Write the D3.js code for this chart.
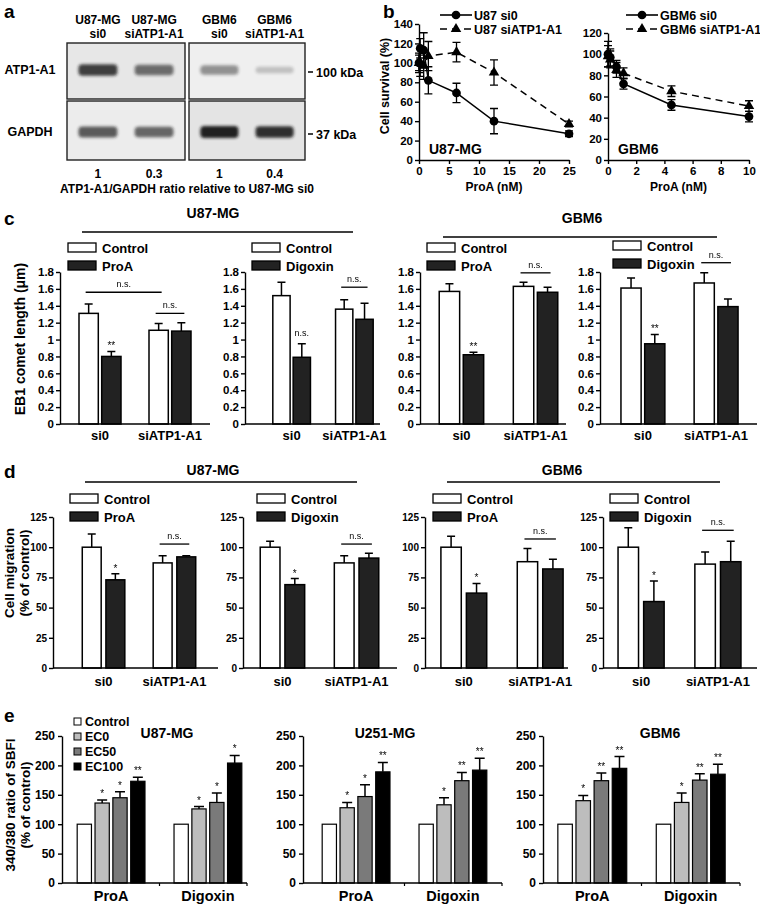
<!DOCTYPE html>
<html>
<head>
<meta charset="utf-8">
<script src="https://cdn.jsdelivr.net/npm/d3@7"></script>
<style>
  body { margin: 0; background: #fff; }
</style>
</head>
<body>
<script>
// ---- panel a : western blot
const laneTop = ["U87-MG", "U87-MG", "GBM6", "GBM6"];
const laneBottom = ["si0", "siATP1-A1", "si0", "siATP1-A1"];
const atp1Intensity = [0.9, 0.72, 0.55, 0.12];
const gapdhIntensity = [0.8, 0.75, 1.0, 0.95];
const ratioLabels = ["1", "0.3", "1", "0.4"];

// ---- panel b : cell survival
const u87Dose = [0, 0.2, 0.78, 1.56, 6.25, 12.5, 25];
const u87Si0 = [100, 115, 113, 82, 69, 40, 27];
const u87Si0Err = [8, 10, 18, 14, 10, 13, 3];
const u87SiAtp = [100, 100, 97, 107, 111, 90, 37];
const u87SiAtpErr = [10, 14, 14, 15, 10, 13, 3];
const gbmDose = [0, 0.16, 0.6, 1.1, 4.5, 10];
const gbmSi0 = [100, 97, 88, 72, 52, 41];
const gbmSi0Err = [12, 8, 6, 5, 5, 5];
const gbmSiAtp = [98, 95, 85, 82, 65, 51];
const gbmSiAtpErr = [10, 8, 7, 5, 5, 5];

// ---- panels c, d : control vs treated, si0 / siATP1-A1
const siGroups = ["si0", "siATP1-A1"];
const treatments = ["ProA", "Digoxin", "ProA", "Digoxin"];
const eb1Control = [[1.31, 1.11], [1.52, 1.36], [1.57, 1.63], [1.61, 1.67]];
const eb1ControlErr = [[0.11, 0.08], [0.16, 0.11], [0.09, 0.05], [0.12, 0.12]];
const eb1Treated = [[0.80, 1.10], [0.79, 1.24], [0.82, 1.56], [0.95, 1.39]];
const eb1TreatedErr = [[0.06, 0.10], [0.16, 0.19], [0.03, 0.06], [0.11, 0.09]];
const eb1Stars = ["**", "n.s.", "**", "**"];
const eb1NsLevel = [1.31, 1.62, 1.79, 1.91];
const eb1Ticks = [0, 0.2, 0.4, 0.6, 0.8, 1, 1.2, 1.4, 1.6, 1.8];

const migControl = [[100, 87], [100, 87], [100, 88], [100, 86]];
const migControlErr = [[11, 6], [5, 6], [9, 11], [16, 10]];
const migTreated = [[73, 92], [69, 91], [62, 82], [55, 88]];
const migTreatedErr = [[5, 1], [5, 4], [8, 8], [17, 17]];
const migStars = ["*", "*", "*", "*"];
const migNsLevel = [102.6, 102.6, 106.8, 114];
const migTicks = [0, 25, 50, 75, 100, 125];

// ---- panel e : SBFI ratio
const sbfiSeries = ["Control", "EC0", "EC50", "EC100"];
const sbfiDrugs = ["ProA", "Digoxin"];
const sbfiCells = ["U87-MG", "U251-MG", "GBM6"];
const sbfiValues = [
  [[100, 136, 145, 173], [100, 126, 137, 204]],
  [[100, 128, 147, 189], [100, 133, 174, 192]],
  [[100, 140, 174, 195], [100, 137, 175, 185]]
];
const sbfiErr = [
  [[0, 5, 10, 7], [0, 4, 16, 13]],
  [[0, 9, 20, 16], [0, 12, 14, 20]],
  [[0, 9, 13, 20], [0, 16, 11, 17]]
];
const sbfiStars = [
  [["", "*", "*", "**"], ["", "*", "*", "*"]],
  [["", "*", "*", "**"], ["", "*", "**", "**"]],
  [["", "*", "**", "**"], ["", "*", "**", "**"]]
];
const sbfiTicks = [0, 50, 100, 150, 200, 250];

const FONT = "'Liberation Sans', Arial, sans-serif";
const svg = d3.select("body").append("svg")
  .attr("width", 760).attr("height", 906)
  .attr("font-family", FONT).attr("font-weight", "bold");

function txt(g, x, y, s, size, anchor = "start", weight = "bold") {
  const t = g.append("text").attr("x", x).attr("y", y)
    .attr("font-size", size).attr("text-anchor", anchor)
    .attr("font-weight", weight).attr("fill", "#000").text(s);
  // small thin marks: keep them grey-scale antialiased
  if (weight === "normal") t.attr("opacity", 0.99);
  return t;
}

function vtxt(g, x, y, s, size) {
  return g.append("text").attr("transform", `translate(${x},${y}) rotate(-90)`)
    .attr("font-size", size).attr("text-anchor", "middle").text(s);
}

function styleAxis(sel, size) {
  sel.attr("font-family", null).attr("font-size", size);
  sel.select(".domain").attr("stroke-width", 1.4);
  sel.selectAll(".tick line").attr("stroke-width", 1.4);
  sel.selectAll("text").attr("fill", "#000");
}

// panel letters
[["a", 4, 18], ["b", 383, 18], ["c", 4, 225], ["d", 4, 478], ["e", 4, 722]]
  .forEach(([l, x, y]) => txt(svg, x, y, l, 19));

// ================= panel a
const defs = svg.append("defs");
defs.append("filter").attr("id", "blur")
  .attr("x", "-30%").attr("y", "-80%").attr("width", "160%").attr("height", "260%")
  .append("feGaussianBlur").attr("stdDeviation", 1.8);

const blotBoxes = [{ x0: 67, x1: 185, lanes: [0, 1] }, { x0: 189, x1: 305, lanes: [2, 3] }];
const blotRows = [
  { y0: 43, y1: 99, vals: atp1Intensity, cy: 70, name: "ATP1-A1", kda: "100 kDa", bg: ["#e7e7e7", "#efefef"] },
  { y0: 101, y1: 160, vals: gapdhIntensity, cy: 132, name: "GAPDH", kda: "37 kDa", bg: ["#ececec", "#e4e4e4"] }
];
const lane = [];
blotBoxes.forEach(b => {
  const xs = d3.scaleBand().domain(b.lanes).range([b.x0, b.x1]).paddingInner(0.2).paddingOuter(0.15);
  b.lanes.forEach(l => lane[l] = { x: xs(l), w: xs.bandwidth() });
});

const ga = svg.append("g");
blotRows.forEach(r => {
  blotBoxes.forEach((b, bi) => {
    ga.append("rect").attr("x", b.x0).attr("y", r.y0)
      .attr("width", b.x1 - b.x0).attr("height", r.y1 - r.y0)
      .attr("fill", r.bg[bi]);
  });
  ga.selectAll(null).data(r.vals).join("rect")
    .attr("x", (d, i) => lane[i].x + 3).attr("width", (d, i) => lane[i].w - 6)
    .attr("y", d => r.cy - 3 - d * 3).attr("height", d => 6 + d * 6)
    .attr("rx", 4).attr("fill", "#151515").attr("opacity", d => 0.2 + d * 0.75 * d)
    .attr("filter", "url(#blur)");
  blotBoxes.forEach(b => {
    ga.append("rect").attr("x", b.x0).attr("y", r.y0)
      .attr("width", b.x1 - b.x0).attr("height", r.y1 - r.y0)
      .attr("fill", "none").attr("stroke", "#222").attr("stroke-width", 1.4);
  });
  txt(ga, 30, r.cy + 4, r.name, 12.5, "middle");
  ga.append("line").attr("x1", 308).attr("x2", 313).attr("y1", r.cy + 2).attr("y2", r.cy + 2)
    .attr("stroke", "#000").attr("stroke-width", 1.5);
  txt(ga, 316, r.cy + 7, r.kda, 12.5);
});
laneTop.forEach((t, i) => {
  const cx = lane[i].x + lane[i].w / 2;
  txt(ga, cx, 24, t, 12, "middle");
  txt(ga, cx, 38, laneBottom[i], 12, "middle");
  txt(ga, cx, 178, ratioLabels[i], 12, "middle");
});
txt(ga, 187, 193, "ATP1-A1/GAPDH ratio relative to U87-MG si0", 12, "middle");

// ================= panel b
function survival(o) {
  const g = svg.append("g");
  const x = d3.scaleLinear().domain(o.xDomain).range(o.xRange);
  const y = d3.scaleLinear().domain(o.yDomain).range([160, o.yTop]);
  g.append("g").attr("transform", "translate(0,160)")
    .call(d3.axisBottom(x).tickValues(o.xTicks).tickSize(4).tickSizeOuter(0).tickPadding(3))
    .call(styleAxis, 11.5);
  g.append("g").attr("transform", `translate(${o.xRange[0]},0)`)
    .call(d3.axisLeft(y).tickValues(o.yTicks).tickSize(4).tickSizeOuter(0).tickPadding(2))
    .call(styleAxis, 11.5);
  txt(g, (o.xRange[0] + o.xRange[1]) / 2, 191, "ProA (nM)", 12, "middle");
  txt(g, o.xRange[0] + 10, 154, o.cell, 14);

  o.series.forEach((s, si) => {
    const pts = o.dose.map((d, i) => ({ d, v: s.v[i], e: s.e[i] }));
    g.append("path").datum(pts)
      .attr("d", d3.line().x(p => x(p.d)).y(p => y(p.v)))
      .attr("fill", "none").attr("stroke", "#000").attr("stroke-width", 1.5)
      .attr("stroke-dasharray", s.dash ? "7,5" : null);
    g.selectAll(null).data(pts).join("path")
      .attr("d", p => `M${x(p.d)},${y(p.v - p.e)}V${y(p.v + p.e)}M${x(p.d) - 4},${y(p.v - p.e)}h8M${x(p.d) - 4},${y(p.v + p.e)}h8`)
      .attr("stroke", "#000").attr("stroke-width", 1.3).attr("fill", "none");
    const sym = d3.symbol().type(s.dash ? d3.symbolTriangle : d3.symbolCircle).size(s.dash ? 48 : 60);
    g.selectAll(null).data(pts).join("path")
      .attr("transform", p => `translate(${x(p.d)},${y(p.v)})`)
      .attr("d", sym).attr("fill", "#000");
    // legend
    const ly = 15 + si * 14;
    g.append("line").attr("x1", o.legX).attr("x2", o.legX + 32).attr("y1", ly).attr("y2", ly)
      .attr("stroke", "#000").attr("stroke-width", 1.6).attr("stroke-dasharray", s.dash ? "7,5" : null);
    g.append("path").attr("transform", `translate(${o.legX + 16},${ly})`).attr("d", sym).attr("fill", "#000");
    txt(g, o.legX + 34, ly + 4.5, s.name, 12.5);
  });
}

survival({
  xDomain: [0, 25], xRange: [419, 569], yDomain: [0, 140], yTop: 24,
  xTicks: [0, 5, 10, 15, 20, 25], yTicks: d3.range(0, 141, 20), cell: "U87-MG", legX: 440,
  dose: u87Dose,
  series: [
    { name: "U87 si0", v: u87Si0, e: u87Si0Err, dash: false },
    { name: "U87 siATP1-A1", v: u87SiAtp, e: u87SiAtpErr, dash: true }
  ]
});
survival({
  xDomain: [0, 10], xRange: [608, 749], yDomain: [0, 120], yTop: 33,
  xTicks: [0, 2, 4, 6, 8, 10], yTicks: d3.range(0, 121, 20), cell: "GBM6", legX: 626,
  dose: gbmDose,
  series: [
    { name: "GBM6 si0", v: gbmSi0, e: gbmSi0Err, dash: false },
    { name: "GBM6 siATP1-A1", v: gbmSiAtp, e: gbmSiAtpErr, dash: true }
  ]
});
vtxt(svg, 389, 86, "Cell survival (%)", 12.5);

// ================= panels c, d
function barPanel(o) {
  const g = svg.append("g");
  const x = d3.scaleBand().domain(siGroups).range(o.range).paddingInner(0.4).paddingOuter(0.3);
  const xi = d3.scaleBand().domain(["Control", "Treated"]).range([0, x.bandwidth()]).paddingInner(o.innerPad);
  const data = siGroups.flatMap((grp, i) => [
    { grp, s: "Control", v: o.ctrl[i], e: o.ctrlErr[i] },
    { grp, s: "Treated", v: o.trt[i], e: o.trtErr[i] }
  ]);
  const cx = d => x(d.grp) + xi(d.s) + xi.bandwidth() / 2;
  const y = o.y;

  g.selectAll(null).data(data).join("path")
    .attr("d", d => `M${cx(d)},${y(d.v)}V${y(d.v + d.e)}M${cx(d) - 4},${y(d.v + d.e)}h8`)
    .attr("stroke", "#000").attr("stroke-width", 1.5).attr("fill", "none");
  g.selectAll(null).data(data).join("rect")
    .attr("x", d => x(d.grp) + xi(d.s)).attr("width", xi.bandwidth())
    .attr("y", d => y(d.v)).attr("height", d => y(0) - y(d.v))
    .attr("fill", d => d.s === "Control" ? "#fff" : "#222")
    .attr("stroke", "#000").attr("stroke-width", 1.5);

  g.append("g").attr("transform", `translate(${o.axisX},0)`)
    .call(d3.axisLeft(y).tickValues(o.ticks).tickFormat(o.fmt).tickSize(4).tickSizeOuter(0).tickPadding(2))
    .call(styleAxis, o.tickSize);
  g.append("line").attr("x1", o.axisX).attr("x2", o.axisEnd).attr("y1", y(0)).attr("y2", y(0))
    .attr("stroke", "#000").attr("stroke-width", 1.4);
  siGroups.forEach(grp => txt(g, x(grp) + x.bandwidth() / 2, y(0) + o.labelDy, grp, 13, "middle"));

  // significance over si0 treated bar
  const t0 = data[1];
  const star = o.star;
  txt(g, cx(t0), y(t0.v + t0.e) - (star === "n.s." ? 8 : 2), star, star === "n.s." ? 9 : 10, "middle", "normal");
  // n.s. line over siATP1-A1 pair
  const ns = (a, b, lvl) => {
    g.append("line").attr("x1", cx(a) - 3).attr("x2", cx(b) + 3).attr("y1", y(lvl)).attr("y2", y(lvl))
      .attr("stroke", "#000").attr("stroke-width", 1.3);
    txt(g, (cx(a) + cx(b)) / 2, y(lvl) - 5, "n.s.", 9, "middle", "normal");
  };
  ns(data[2], data[3], o.nsLevel);
  if (o.bigNs) ns(data[0], data[2], o.bigNs);

  // legend
  [["Control", "#fff"], [o.treat, "#222"]].forEach(([name, fill], i) => {
    g.append("rect").attr("x", o.legX).attr("y", o.legY + i * 18).attr("width", 28).attr("height", 9)
      .attr("fill", fill).attr("stroke", "#000").attr("stroke-width", 1.3);
    txt(g, o.legX + 34, o.legY + i * 18 + 9.5, name, 13);
  });
}

function header(label, x, y, x1, x2, ly) {
  txt(svg, x, y, label, 14, "middle");
  svg.append("line").attr("x1", x1).attr("x2", x2).attr("y1", ly).attr("y2", ly)
    .attr("stroke", "#000").attr("stroke-width", 1.4);
}

const eb1Y = d3.scaleLinear().domain([0, 1.8]).range([424, 272]);
const eb1Fmt = d => String(+d.toFixed(1));
const cLayout = [
  { axisX: 60, axisEnd: 210, range: [58, 212], legX: 68, legY: 243 },
  { axisX: 245, axisEnd: 380, range: [254, 392], legX: 252, legY: 243 },
  { axisX: 420, axisEnd: 566, range: [417, 580], legX: 427, legY: 243 },
  { axisX: 600, axisEnd: 757, range: [599, 760], legX: 613, legY: 241 }
];
cLayout.forEach((l, i) => barPanel(Object.assign({
  y: eb1Y, fmt: eb1Fmt, ticks: eb1Ticks, innerPad: 0.15, labelDy: 16, tickSize: 11.5,
  ctrl: eb1Control[i], ctrlErr: eb1ControlErr[i], trt: eb1Treated[i], trtErr: eb1TreatedErr[i],
  treat: treatments[i], star: eb1Stars[i], nsLevel: eb1NsLevel[i], bigNs: i === 0 ? 1.56 : null
}, l)));
header("U87-MG", 213, 218, 82, 353, 232);
header("GBM6", 582, 223, 443, 717, 237);
vtxt(svg, 25, 339, "EB1 comet length  (\u03bcm)", 14);

const migY = d3.scaleLinear().domain([0, 125]).range([668, 517]);
const dLayout = [
  { axisX: 53, axisEnd: 218, range: [61, 217], legX: 70, legY: 494 },
  { axisX: 243, axisEnd: 397, range: [238, 401], legX: 257, legY: 494 },
  { axisX: 425, axisEnd: 568, range: [418, 586], legX: 433, legY: 494 },
  { axisX: 603, axisEnd: 757, range: [595, 764], legX: 610, legY: 494 }
];
dLayout.forEach((l, i) => barPanel(Object.assign({
  y: migY, fmt: d3.format("d"), ticks: migTicks, innerPad: 0.2, labelDy: 18, tickSize: 10,
  ctrl: migControl[i], ctrlErr: migControlErr[i], trt: migTreated[i], trtErr: migTreatedErr[i],
  treat: treatments[i], star: migStars[i], nsLevel: migNsLevel[i], bigNs: null
}, l)));
header("U87-MG", 213, 475, 85, 357, 482);
header("GBM6", 562, 475, 447, 720, 482);
vtxt(svg, 14, 573, "Cell migration", 13.5);
vtxt(svg, 29, 573, "(% of control)", 13.5);

// ================= panel e
const sbfiColor = d3.scaleOrdinal().domain(sbfiSeries).range(["#fff", "#bdbdbd", "#7a7a7a", "#000"]);
const sbfiY = d3.scaleLinear().domain([0, 250]).range([883, 736]);
const eLayout = [
  { axisX: 62, axisEnd: 247, range: [67.5, 251.5], titleX: 167 },
  { axisX: 303, axisEnd: 502, range: [312.5, 496.5], titleX: 385 },
  { axisX: 543, axisEnd: 740, range: [548, 735], titleX: 660 }
];
eLayout.forEach((l, ci) => {
  const g = svg.append("g");
  const x = d3.scaleBand().domain(sbfiDrugs).range(l.range).paddingInner(0.3).paddingOuter(0.1);
  const xi = d3.scaleBand().domain(sbfiSeries).range([0, x.bandwidth()]).paddingInner(0.2);
  const y = sbfiY;
  const data = sbfiDrugs.flatMap((drug, di) => sbfiSeries.map((s, si) => ({
    drug, s, v: sbfiValues[ci][di][si], e: sbfiErr[ci][di][si], star: sbfiStars[ci][di][si]
  })));
  const cx = d => x(d.drug) + xi(d.s) + xi.bandwidth() / 2;
  g.selectAll(null).data(data.filter(d => d.e > 0)).join("path")
    .attr("d", d => `M${cx(d)},${y(d.v)}V${y(d.v + d.e)}M${cx(d) - 5},${y(d.v + d.e)}h10`)
    .attr("stroke", "#000").attr("stroke-width", 1.5).attr("fill", "none");
  g.selectAll(null).data(data).join("rect")
    .attr("x", d => x(d.drug) + xi(d.s)).attr("width", xi.bandwidth())
    .attr("y", d => y(d.v)).attr("height", d => y(0) - y(d.v))
    .attr("fill", d => sbfiColor(d.s)).attr("stroke", "#000").attr("stroke-width", 1.2);
  g.selectAll(null).data(data.filter(d => d.star)).join("text")
    .attr("x", cx).attr("y", d => y(d.v + d.e) - 3)
    .attr("text-anchor", "middle").attr("font-size", 10).attr("font-weight", "normal")
    .attr("fill", "#000").attr("opacity", 0.99).text(d => d.star);

  g.append("g").attr("transform", `translate(${l.axisX},0)`)
    .call(d3.axisLeft(y).tickValues(sbfiTicks).tickSize(4).tickSizeOuter(0).tickPadding(3))
    .call(styleAxis, 12);
  g.append("line").attr("x1", l.axisX).attr("x2", l.axisEnd).attr("y1", y(0)).attr("y2", y(0))
    .attr("stroke", "#000").attr("stroke-width", 1.4);
  const mid = x("Digoxin") - x.step() * x.paddingInner() / 2;
  [mid, l.axisEnd].forEach(t => g.append("line").attr("x1", t).attr("x2", t)
    .attr("y1", y(0)).attr("y2", y(0) + 3).attr("stroke", "#000").attr("stroke-width", 1.2));
  sbfiDrugs.forEach(drug => txt(g, x(drug) + x.bandwidth() / 2, 901, drug, 14.5, "middle"));
  txt(g, l.titleX, 738, sbfiCells[ci], 14, "middle");
});
sbfiSeries.forEach((s, i) => {
  svg.append("rect").attr("x", 74).attr("y", 718 + i * 15).attr("width", 7).attr("height", 7)
    .attr("fill", sbfiColor(s)).attr("stroke", "#000").attr("stroke-width", 1);
  txt(svg, 85, 726 + i * 15, s, 12.5);
});
vtxt(svg, 15, 805, "340/380 ratio of SBFI", 13.5);
vtxt(svg, 30, 805, "(% of control)", 13.5);
</script>
</body>
</html>
